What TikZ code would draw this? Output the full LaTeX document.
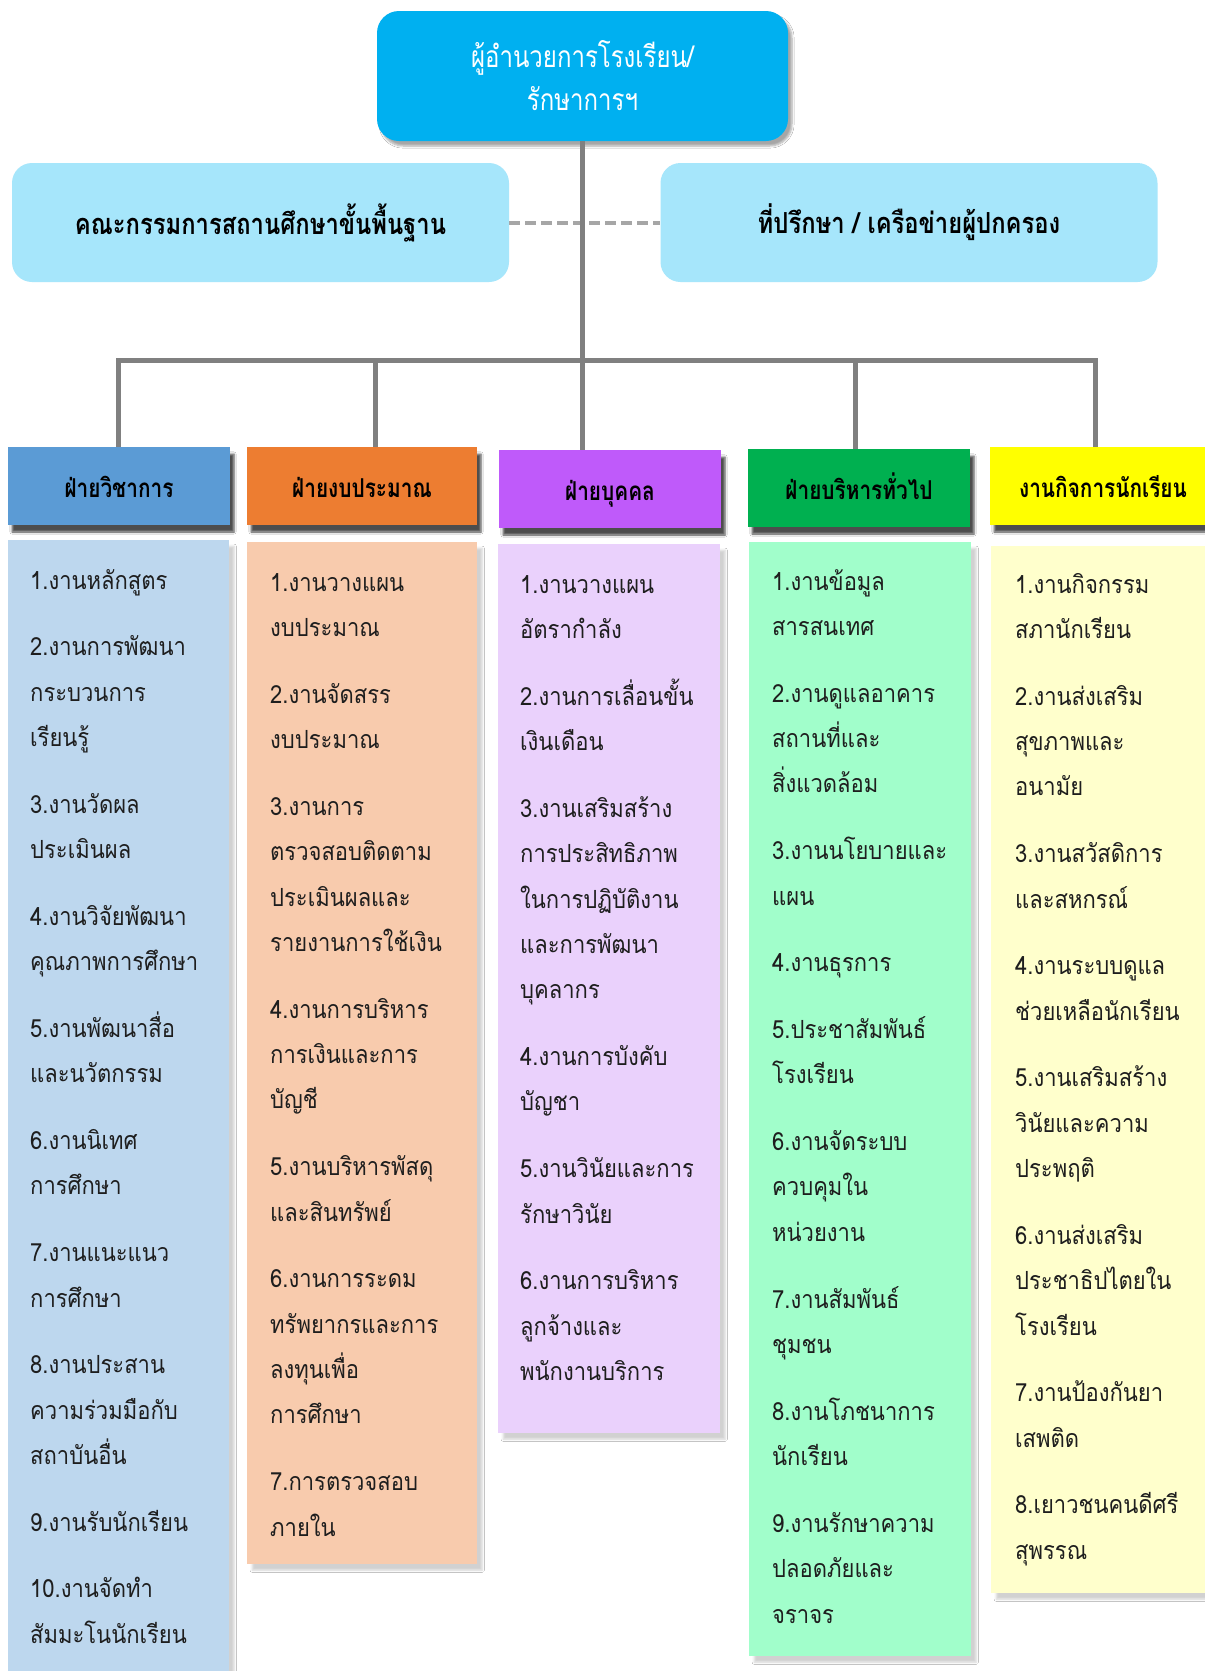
\documentclass[tikz,border=0pt]{standalone}
\usepackage{fontspec}
\setmainfont{Loma}[Script=Thai]
\newfontfamily\hdrfont{Loma}[Script=Thai,FakeStretch=0.8]
\newfontfamily\sidefont{Loma}[Script=Thai,FakeStretch=0.82]
\newfontfamily\bodyfont{Loma}[Script=Thai,FakeStretch=0.88]
\usetikzlibrary{shadows.blur}
\definecolor{topc}{HTML}{00B0F0}
\definecolor{sidec}{HTML}{A6E6FB}
\definecolor{h1c}{HTML}{5B9BD5}
\definecolor{h2c}{HTML}{ED7D31}
\definecolor{h3c}{HTML}{BF5AFA}
\definecolor{h4c}{HTML}{00B050}
\definecolor{h5c}{HTML}{FFFF00}
\definecolor{c1c}{HTML}{BDD7EE}
\definecolor{c2c}{HTML}{F8CBAD}
\definecolor{c3c}{HTML}{EAD1FC}
\definecolor{c4c}{HTML}{A1FECB}
\definecolor{c5c}{HTML}{FFFFCC}
\definecolor{linec}{HTML}{808080}
\definecolor{dashc}{HTML}{A6A6A6}
\definecolor{txtc}{HTML}{1E1E1E}
\newcounter{lnc}\newcounter{itc}
\newcommand\colitems[4]{%
  \setcounter{lnc}{0}\setcounter{itc}{0}%
  \foreach \itm in {#4}{%
    \foreach \lin in \itm {%
      \pgfmathsetmacro\yy{#3+\arabic{lnc}*45.4+\arabic{itc}*21.3}%
      \node[bodytext] (#1-\arabic{lnc}) at (#2,\yy) {\lin};%
      \stepcounter{lnc}}%
    \stepcounter{itc}}}
\tikzset{
  bodytext/.style={anchor=base west, inner sep=0pt, text=txtc, font=\bodyfont\fontsize{25}{25}\selectfont},
  hdrtext/.style={font=\hdrfont\bfseries\fontsize{26}{30}\selectfont, text=black},
  topbox/.style={draw=none, fill=topc, rounded corners=22pt, minimum width=411pt, minimum height=130pt,
    align=center, text=white, font=\hdrfont\fontsize{30}{43}\selectfont,
    blur shadow={shadow xshift=4pt, shadow yshift=-5pt, shadow opacity=35, shadow blur steps=6}},
  sidebox/.style={fill=sidec, rounded corners=20pt, minimum width=497pt, minimum height=119pt,
    font=\sidefont\bfseries\fontsize{29}{32}\selectfont, text=black},
  hdrbox/.style={minimum width=222pt, minimum height=78pt, inner sep=0pt, hdrtext,
    text height=28pt, text depth=6pt,
    blur shadow={shadow xshift=4pt, shadow yshift=-7pt, shadow opacity=70, shadow blur steps=5}},
  colbox/.style={anchor=north west, inner sep=0pt,
    blur shadow={shadow xshift=5pt, shadow yshift=-6pt, shadow opacity=18, shadow blur steps=4}},
  conn/.style={draw=linec, line width=5pt},
  dashline/.style={draw=dashc, line width=4pt, dash pattern=on 11pt off 5pt},
}
\begin{document}
\begin{tikzpicture}[x=1pt,y=-1pt]
\useasboundingbox (0,0) rectangle (1205,1671);
\fill[white] (0,0) rectangle (1205,1671);
% top and side boxes
\node[topbox] (top) at (582.5,76) {ผู้อำนวยการโรงเรียน/\\รักษาการฯ};
\node[sidebox] (lbox) at (260.5,222.5) {คณะกรรมการสถานศึกษาขั้นพื้นฐาน};
\node[sidebox] (rbox) at (909,222.5) {ที่ปรึกษา / เครือข่ายผู้ปกครอง};
% column content boxes
\node[colbox, fill=c1c, minimum width=221pt, minimum height=1140pt] (c1) at (8,540) {};
\node[colbox, fill=c2c, minimum width=230pt, minimum height=1022pt] (c2) at (247,542) {};
\node[colbox, fill=c3c, minimum width=222pt, minimum height=889pt] (c3) at (498,544) {};
\node[colbox, fill=c4c, minimum width=222pt, minimum height=1114pt] (c4) at (749,542) {};
\node[colbox, fill=c5c, minimum width=224pt, minimum height=1047pt] (c5) at (991,546) {};
% headers
\node[hdrbox, fill=h1c] (h1) at (119,486) {ฝ่ายวิชาการ};
\node[hdrbox, fill=h2c, minimum width=230pt] (h2) at (362,486) {ฝ่ายงบประมาณ};
\node[hdrbox, fill=h3c] (h3) at (610,489) {ฝ่ายบุคคล};
\node[hdrbox, fill=h4c] (h4) at (859,488) {ฝ่ายบริหารทั่วไป};
\node[hdrbox, fill=h5c, minimum width=226pt] (h5) at (1103,486) {งานกิจการนักเรียน};
% connectors
\draw[dashline] (lbox.east) -- (lbox.east -| rbox.west);
\coordinate (d1) at (118,360);
\coordinate (d2) at (375,360);
\coordinate (d4) at (855,360);
\coordinate (d5) at (1095,360);
\draw[conn] (top.south) -- (top.south |- h3.north);
\draw[conn, line join=miter] (d1 |- h1.north) -- (d1) -- (d5) -- (d5 |- h5.north);
\draw[conn] (d2) -- (d2 |- h2.north);
\draw[conn] (d4) -- (d4 |- h4.north);
% column texts
\colitems{t1}{30}{589}{1.งานหลักสูตร,
  {2.งานการพัฒนา,กระบวนการ,เรียนรู้},
  {3.งานวัดผล,ประเมินผล},
  {4.งานวิจัยพัฒนา,คุณภาพการศึกษา},
  {5.งานพัฒนาสื่อ,และนวัตกรรม},
  {6.งานนิเทศ,การศึกษา},
  {7.งานแนะแนว,การศึกษา},
  {8.งานประสาน,ความร่วมมือกับ,สถาบันอื่น},
  9.งานรับนักเรียน,
  {10.งานจัดทำ,สัมมะโนนักเรียน}}
\colitems{t2}{270}{591}{{1.งานวางแผน,งบประมาณ},
  {2.งานจัดสรร,งบประมาณ},
  {3.งานการ,ตรวจสอบติดตาม,ประเมินผลและ,รายงานการใช้เงิน},
  {4.งานการบริหาร,การเงินและการ,บัญชี},
  {5.งานบริหารพัสดุ,และสินทรัพย์},
  {6.งานการระดม,ทรัพยากรและการ,ลงทุนเพื่อ,การศึกษา},
  {7.การตรวจสอบ,ภายใน}}
\colitems{t3}{520}{593}{{1.งานวางแผน,อัตรากำลัง},
  {2.งานการเลื่อนขั้น,เงินเดือน},
  {3.งานเสริมสร้าง,การประสิทธิภาพ,ในการปฏิบัติงาน,และการพัฒนา,บุคลากร},
  {4.งานการบังคับ,บัญชา},
  {5.งานวินัยและการ,รักษาวินัย},
  {6.งานการบริหาร,ลูกจ้างและ,พนักงานบริการ}}
\colitems{t4}{772}{590}{{1.งานข้อมูล,สารสนเทศ},
  {2.งานดูแลอาคาร,สถานที่และ,สิ่งแวดล้อม},
  {3.งานนโยบายและ,แผน},
  4.งานธุรการ,
  {5.ประชาสัมพันธ์,โรงเรียน},
  {6.งานจัดระบบ,ควบคุมใน,หน่วยงาน},
  {7.งานสัมพันธ์,ชุมชน},
  {8.งานโภชนาการ,นักเรียน},
  {9.งานรักษาความ,ปลอดภัยและ,จราจร}}
\colitems{t5}{1015}{593}{{1.งานกิจกรรม,สภานักเรียน},
  {2.งานส่งเสริม,สุขภาพและ,อนามัย},
  {3.งานสวัสดิการ,และสหกรณ์},
  {4.งานระบบดูแล,ช่วยเหลือนักเรียน},
  {5.งานเสริมสร้าง,วินัยและความ,ประพฤติ},
  {6.งานส่งเสริม,ประชาธิปไตยใน,โรงเรียน},
  {7.งานป้องกันยา,เสพติด},
  {8.เยาวชนคนดีศรี,สุพรรณ}}
\end{tikzpicture}
\end{document}
